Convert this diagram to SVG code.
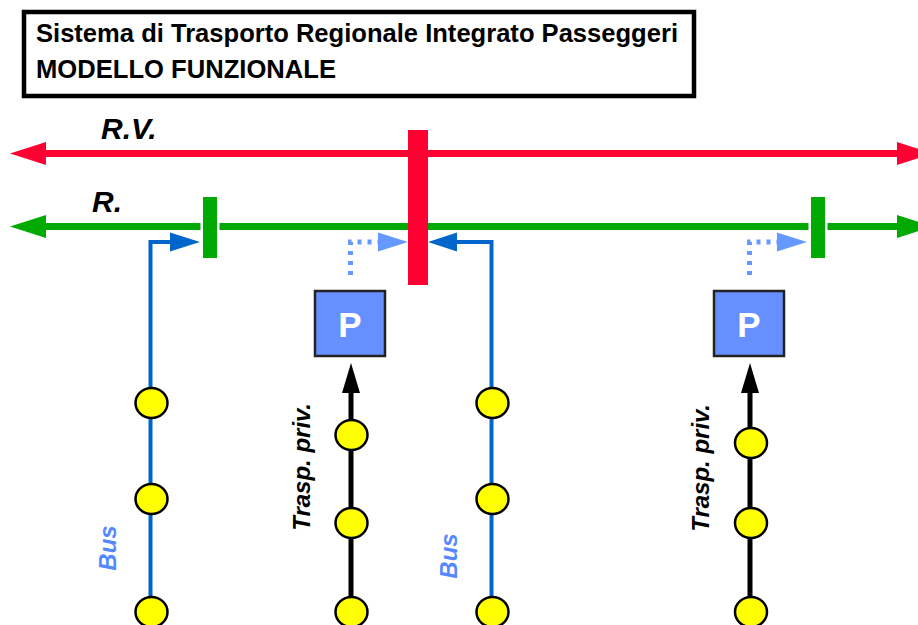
<svg xmlns="http://www.w3.org/2000/svg" width="918" height="625" viewBox="0 0 918 625">
<style>
.t{font-family:"Liberation Sans",Arial,sans-serif;font-weight:bold}
.bi{font-family:"Liberation Sans",Arial,sans-serif;font-weight:bold;font-style:italic}
.stop{fill:#FFFF00;stroke:#000;stroke-width:2.5}
.park{fill:#6690FF;stroke:#222;stroke-width:2.5}
.bus{fill:none;stroke:#0066CC;stroke-width:4}
.priv{fill:none;stroke:#000;stroke-width:5}
.dot{fill:none;stroke:#6699FF;stroke-width:5;stroke-dasharray:4,6}
</style>
<rect width="918" height="625" fill="#fff"/>
<g id="title">
<rect x="24" y="12" width="670" height="84" fill="#fff" stroke="#000" stroke-width="4.5"/>
<text class="t" x="36" y="42" font-size="25" textLength="642" lengthAdjust="spacingAndGlyphs">Sistema di Trasporto Regionale Integrato Passeggeri</text>
<text class="t" x="36" y="78" font-size="25" textLength="300" lengthAdjust="spacingAndGlyphs">MODELLO FUNZIONALE</text>
</g>
<g id="connectors">
<line x1="44" y1="153.5" x2="899" y2="153.5" stroke="#FF0033" stroke-width="7"/>
<polygon points="10,153.5 46,142 46,165" fill="#FF0033"/>
<polygon points="933,153.5 897,142 897,165" fill="#FF0033"/>
<line x1="44" y1="226.5" x2="899" y2="226.5" stroke="#00AA00" stroke-width="7"/>
<polygon points="10,226.5 46,215 46,238" fill="#00AA00"/>
<polygon points="933,226.5 897,215 897,238" fill="#00AA00"/>
<path class="bus" d="M150.5,625 V242 H172"/>
<polygon points="200,242 170,232.5 170,251.5" fill="#0066CC"/>
<path class="bus" d="M491.5,625 V242 H455"/>
<polygon points="428,242 457,232.5 457,251.5" fill="#0066CC"/>
<path class="dot" d="M350.5,275 V242 H378"/>
<polygon points="408,242 378,232.5 378,251.5" fill="#6699FF"/>
<path class="dot" d="M749.5,275 V242 H777"/>
<polygon points="807,242 777,232.5 777,251.5" fill="#6699FF"/>
<line class="priv" x1="351" y1="391" x2="351" y2="625"/>
<polygon points="351,363 342,393 360,393" fill="#000"/>
<line class="priv" x1="750" y1="391" x2="750" y2="625"/>
<polygon points="750,363 741,393 759,393" fill="#000"/>
</g>
<g id="labels">
<text class="bi" x="101" y="139" font-size="30">R.V.</text>
<text class="bi" x="92" y="212" font-size="30">R.</text>
<text class="bi" x="116" y="548" font-size="24" fill="#5588FF" text-anchor="middle" transform="rotate(-90 116 548)">Bus</text>
<text class="bi" x="457" y="556" font-size="24" fill="#5588FF" text-anchor="middle" transform="rotate(-90 457 556)">Bus</text>
<text class="bi" x="310" y="467" font-size="24" fill="#000" text-anchor="middle" transform="rotate(-90 310 467)">Trasp. priv.</text>
<text class="bi" x="709" y="468" font-size="24" fill="#000" text-anchor="middle" transform="rotate(-90 709 468)">Trasp. priv.</text>
</g>
<g id="station-r1">
<rect x="203" y="197" width="14" height="61" fill="#00AA00" stroke="#fff" stroke-width="5" paint-order="stroke"/>
</g>
<g id="station-r2">
<rect x="811" y="197" width="14" height="61" fill="#00AA00" stroke="#fff" stroke-width="5" paint-order="stroke"/>
</g>
<g id="station-rv">
<rect x="408" y="130" width="20" height="155" fill="#FF0033"/>
</g>
<g id="parking1">
<rect class="park" x="315" y="291" width="70" height="65"/>
<text class="t" x="350" y="337" font-size="35" fill="#fff" text-anchor="middle">P</text>
</g>
<g id="parking2">
<rect class="park" x="714" y="291" width="70" height="65"/>
<text class="t" x="749" y="337" font-size="35" fill="#fff" text-anchor="middle">P</text>
</g>
<g id="stops">
<ellipse class="stop" cx="151.5" cy="403" rx="16" ry="15"/>
<ellipse class="stop" cx="151.5" cy="499" rx="16" ry="15"/>
<ellipse class="stop" cx="151.5" cy="612" rx="16" ry="15"/>
<ellipse class="stop" cx="351.5" cy="435" rx="16" ry="15"/>
<ellipse class="stop" cx="351.5" cy="523" rx="16" ry="15"/>
<ellipse class="stop" cx="351.5" cy="612" rx="16" ry="15"/>
<ellipse class="stop" cx="492.5" cy="403" rx="16" ry="15"/>
<ellipse class="stop" cx="492.5" cy="499" rx="16" ry="15"/>
<ellipse class="stop" cx="492.5" cy="612" rx="16" ry="15"/>
<ellipse class="stop" cx="751" cy="443" rx="16" ry="15"/>
<ellipse class="stop" cx="751" cy="523" rx="16" ry="15"/>
<ellipse class="stop" cx="751" cy="612" rx="16" ry="15"/>
</g>
</svg>
